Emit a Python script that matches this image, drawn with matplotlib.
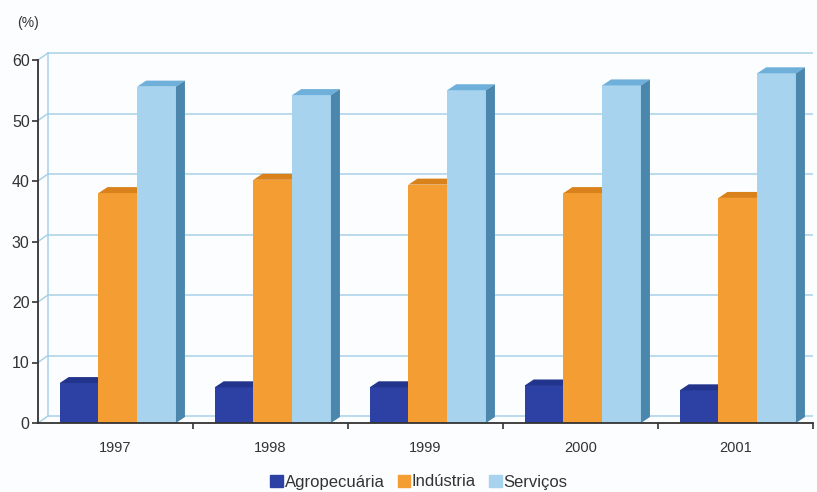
import matplotlib.pyplot as plt
from matplotlib.patches import Polygon, Patch

plt.rcParams['font.family'] = ['Liberation Sans', 'DejaVu Sans']

# data
anos = ['1997', '1998', '1999', '2000', '2001']
agropecuaria = [6.6, 5.9, 5.9, 6.2, 5.4]
industria = [38.0, 40.2, 39.4, 38.0, 37.2]
servicos = [55.6, 54.2, 55.0, 55.8, 57.8]
setores = ['Agropecuária', 'Indústria', 'Serviços']

# front, top, side colours per series
cores = [('#2c41a3', '#22348c', '#1d2c78'),
         ('#f49d33', '#d9821c', '#c9741a'),
         ('#a8d3ef', '#6eb0da', '#4b87ad')]

fig = plt.figure(figsize=(8.17, 4.92), dpi=100)
fig.patch.set_facecolor('#fcfdfe')
W, H = 817, 492
y_lo, y_hi = 0, 62
px_per_unit = (423 - 60) / 60
top_px = 423 - y_hi * px_per_unit
ax = fig.add_axes([38 / W, (H - 423) / H, (813 - 38) / W, (423 - top_px) / H])
ax.set_facecolor('none')
ax.set_xlim(0, len(anos))
ax.set_ylim(y_lo, y_hi)

# back wall depth (data units)
wdx = 10 / 155
wdy = 7 / px_per_unit
grid_c = '#a9d2e8'
for v in range(0, 61, 10):
    ax.plot([wdx, len(anos)], [v + wdy, v + wdy], color=grid_c, lw=1.1, zorder=1)
    ax.plot([0, wdx], [v, v + wdy], color=grid_c, lw=1.1, zorder=1)
ax.plot([wdx, wdx], [wdy, 60 + wdy], color=grid_c, lw=1.1, zorder=1)

# bars with fake 3d depth
bw = 0.25
off = 0.14
bdx = 9 / 155
bdy = 6 / px_per_unit
series = [agropecuaria, industria, servicos]
for s, vals in enumerate(series):
    front, top, side = cores[s]
    xs = [i + off + s * bw for i in range(len(anos))]
    ax.bar(xs, vals, width=bw, align='edge', color=front, zorder=3 + s)
    for x0, h in zip(xs, vals):
        x1 = x0 + bw
        ax.add_patch(Polygon([(x0, h), (x0 + bdx, h + bdy), (x1 + bdx, h + bdy), (x1, h)],
                             closed=True, color=top, zorder=3 + s, lw=0))
        if s == len(series) - 1:
            ax.add_patch(Polygon([(x1, 0), (x1 + bdx, bdy), (x1 + bdx, h + bdy), (x1, h)],
                                 closed=True, color=side, zorder=3 + s, lw=0))

# axes
for sp in ['top', 'right']:
    ax.spines[sp].set_visible(False)
ax.spines['left'].set_bounds(0, 60)
ax.spines['left'].set_color('#333333')
ax.spines['left'].set_linewidth(1.3)
ax.spines['bottom'].set_color('#333333')
ax.spines['bottom'].set_linewidth(1.3)
ax.spines['bottom'].set_zorder(10)
ax.set_yticks(range(0, 61, 10))
ax.tick_params(axis='y', length=4, width=1.2, color='#333333', labelsize=11.5,
               labelcolor='#333333', pad=2)
ax.set_xticks([i + 0.5 for i in range(len(anos))])
ax.set_xticklabels(anos)
ax.set_xticks(range(1, len(anos) + 1), minor=True)
ax.tick_params(axis='x', which='major', length=0, labelsize=10.5, labelcolor='#333333', pad=13)
ax.tick_params(axis='x', which='minor', length=4, width=1.2, color='#333333')

fig.text(17 / W, 1 - 23 / H, '(%)', fontsize=10, color='#333333', va='center')

handles = [Patch(color=cores[i][0]) for i in range(3)]
fig.legend(handles, setores, loc='center', bbox_to_anchor=(419 / W, 1 - 482 / H), ncol=3,
           frameon=False, fontsize=12, handlelength=0.75, handleheight=0.75,
           handletextpad=0.1, columnspacing=0.8, labelcolor='#333333')

fig.savefig('out.png', dpi=100, facecolor=fig.get_facecolor())
